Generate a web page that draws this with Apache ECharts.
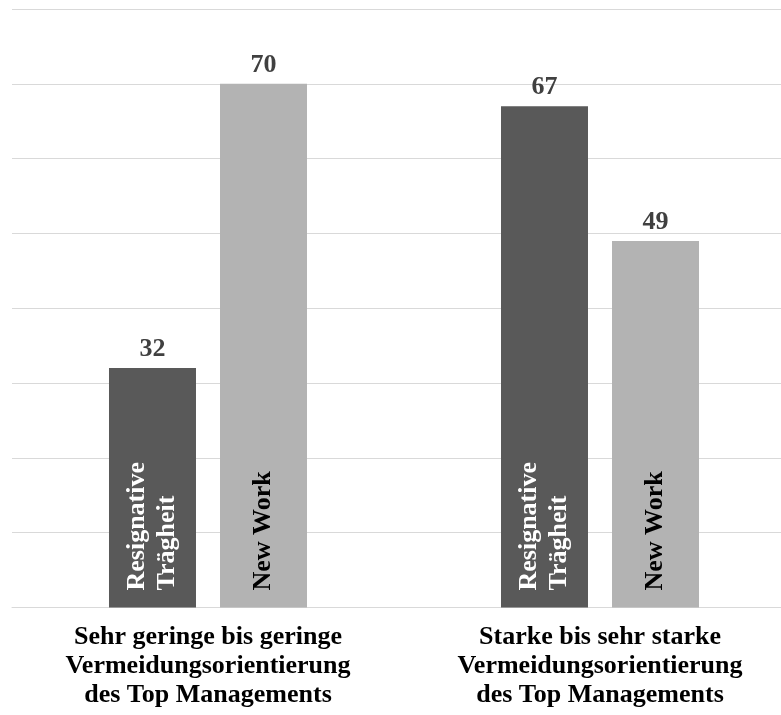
<!DOCTYPE html>
<html>
<head>
<meta charset="utf-8">
<script src="https://cdn.jsdelivr.net/npm/echarts@6/dist/echarts.min.js"></script>
<style>
  html, body { margin: 0; padding: 0; background: #fff; overflow: hidden; }
  /* the plot runs slightly past the right edge of the window */
  #chart { width: 796px; height: 715px; }
</style>
</head>
<body>
<div id="chart"></div>
<script>
// Groups on the x axis
const categories = [
  'Sehr geringe bis geringe\nVermeidungsorientierung\ndes Top Managements',
  'Starke bis sehr starke\nVermeidungsorientierung\ndes Top Managements'
];
// Series names (written inside the bars) and their values
const seriesNames = ['Resignative\nTrägheit', 'New Work'];
const resignativeTraegheit = [32, 67];
const newWork = [70, 49];
// Value axis range
const yMin = 0;
const yMax = 80;
const yStep = 10;

const serif = "'Liberation Serif', 'Times New Roman', serif";
const colors = ['#595959', '#b3b3b3'];
const innerText = ['#ffffff', '#000000'];
const seriesValues = [resignativeTraegheit, newWork];

const series = [];
seriesValues.forEach(function (vals, i) {
  const stackId = 's' + i;
  // the bar itself, with its name written upward from the bottom
  series.push({
    type: 'bar',
    stack: stackId,
    data: vals,
    barWidth: 87,
    barGap: '27.6%',
    itemStyle: { color: colors[i] },
    label: {
      show: true,
      position: 'insideBottom',
      rotate: 90,
      align: 'left',
      verticalAlign: 'middle',
      distance: 17,
      formatter: seriesNames[i],
      fontFamily: serif,
      fontWeight: 'bold',
      fontSize: 26,
      lineHeight: 30,
      color: innerText[i]
    },
    emphasis: { disabled: true }
  });
  // zero-height cap carrying the value label above the bar
  series.push({
    type: 'bar',
    stack: stackId,
    data: vals.map(function () { return 0; }),
    barWidth: 87,
    barGap: '27.6%',
    itemStyle: { color: colors[i] },
    label: {
      show: true,
      position: 'top',
      distance: 6,
      formatter: function (p) { return vals[p.dataIndex]; },
      fontFamily: serif,
      fontWeight: 'bold',
      fontSize: 26,
      color: '#404040'
    },
    emphasis: { disabled: true }
  });
});

const chart = echarts.init(document.getElementById('chart'));
chart.setOption({
  animation: false,
  grid: { left: 12, right: 0, top: 9, bottom: 107.5, containLabel: false },
  xAxis: {
    type: 'category',
    data: categories,
    axisLine: { show: true, lineStyle: { color: '#d9d9d9', width: 1 } },
    axisTick: { show: false },
    axisLabel: {
      interval: 0,
      margin: 15,
      fontFamily: serif,
      fontWeight: 'bold',
      fontSize: 26,
      lineHeight: 29,
      color: '#000000'
    }
  },
  yAxis: {
    type: 'value',
    min: yMin,
    max: yMax,
    interval: yStep,
    axisLine: { show: false },
    axisTick: { show: false },
    axisLabel: { show: false },
    splitLine: { lineStyle: { color: '#d9d9d9', width: 1 } }
  },
  series: series
});
</script>
</body>
</html>
